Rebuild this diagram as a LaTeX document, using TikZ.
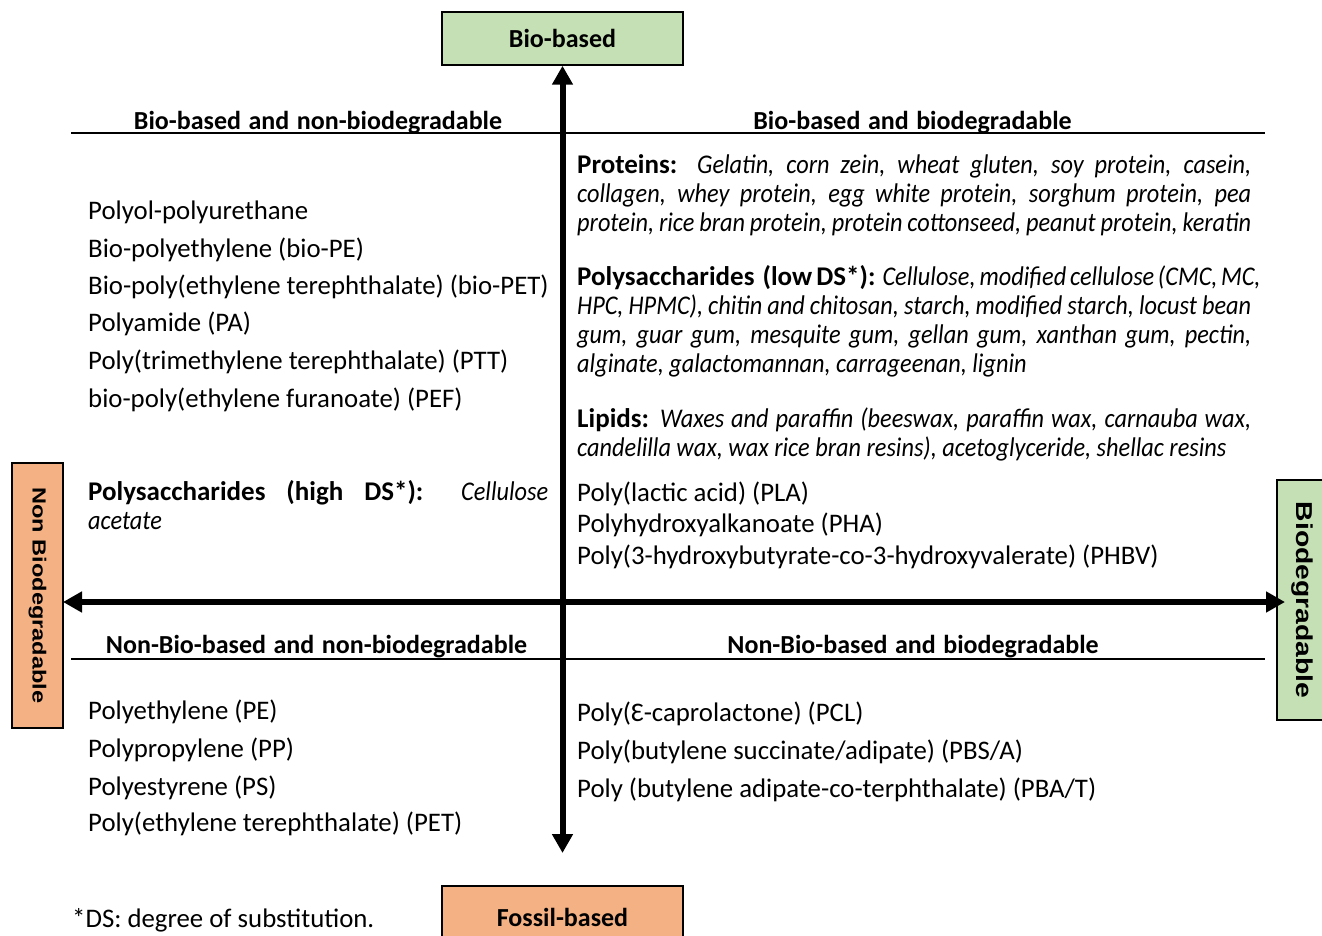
\documentclass[tikz,border=0pt]{standalone}
\usepackage{graphicx}
\usepackage{xcolor}
\usepackage{fontspec}
\setmainfont{Carlito}[ItalicFeatures={FakeStretch=0.90}]
\newfontfamily\sidefont{Liberation Sans}
\usetikzlibrary{arrows.meta}
\definecolor{biogreen}{RGB}{197,224,180}
\definecolor{fossilorange}{RGB}{244,177,131}
\newcommand{\jline}[2][674pt]{\leavevmode\hbox to #1{\spaceskip=0pt\xspaceskip=0pt #2}}

\begin{document}
\begin{tikzpicture}[x=1pt,y=-1pt,
  catbox/.style={draw=black,line width=1.5pt,inner sep=0pt,font=\bfseries\fontsize{26}{29}\selectfont},
  sidebox/.style={draw=black,line width=1.5pt,inner sep=0pt,rotate=-90},
  axisarrow/.style={line width=6pt,{Triangle[length=19pt,width=20pt]}-{Triangle[length=19pt,width=20pt]}},
  divider/.style={line width=2pt},
  heading/.style={inner sep=0pt,yshift=-3pt,font=\bfseries\fontsize{26}{29}\selectfont},
  item/.style={anchor=west,inner sep=0pt,yshift=-2pt,font=\fontsize{26.8}{29}\selectfont},
  para/.style={anchor=base west,inner sep=0pt,text width=674pt,align=flush left,font=\fontsize{27}{29}\selectfont}]
\useasboundingbox (0,0) rectangle (1322,936);

%Shape: category boxes
\node[catbox,fill=biogreen,minimum width=241pt,minimum height=53pt] (bio) at (562.5,38.5) {\raisebox{-3pt}{Bio-based}};
\node[catbox,fill=fossilorange,minimum width=241pt,minimum height=62pt] (fossil) at (562.5,917) {Fossil-based};
\node[sidebox,fill=fossilorange,minimum width=265pt,minimum height=51pt] (nonbio) at (37.5,595.5) {\sidefont\bfseries\fontsize{19}{22}\selectfont\scalebox{1.24}[1]{Non Biodegradable}};
\node[sidebox,fill=biogreen,minimum width=240pt,minimum height=50pt] (biodeg) at (1302,600) {\sidefont\bfseries\fontsize{23}{26}\selectfont\scalebox{1.23}[1]{Biodegradable}};

%Straight Lines: axes
\coordinate (downtip) at (562.5,853);
\coordinate (lefttip) at (63,602);
\coordinate (righttip) at (1285,602);
\draw[axisarrow] (bio.south) -- (downtip);
\draw[axisarrow] (lefttip) -- (righttip);

%Straight Lines: dividers
\draw[divider] (71,133) -- (1265,133);
\draw[divider] (71,659) -- (1265,659);

% Text Node: headings
\node[heading] (hbionb) at (318,120) {Bio-based\hspace{7.5pt}and\hspace{7.5pt}non-biodegradable};
\node[heading] (hbiob) at (912.5,120) {Bio-based\hspace{7.5pt}and\hspace{7.5pt}biodegradable};
\node[heading] (hfosnb) at (316.5,644) {Non-Bio-based\hspace{7.5pt}and\hspace{7.5pt}non-biodegradable};
\node[heading] (hfosb) at (913,644) {Non-Bio-based\hspace{7.5pt}and\hspace{7.5pt}biodegradable};

% Text Node: bio-based and non-biodegradable
\node[item] (ppu) at (88,210) {Polyol-polyurethane};
\node[item] (biope) at (88,248) {Bio-polyethylene (bio-PE)};
\node[item] (biopet) at (88,285) {Bio-poly(ethylene terephthalate) (bio-PET)};
\node[item] (pa) at (88,322) {Polyamide (PA)};
\node[item] (ptt) at (88,360) {Poly(trimethylene terephthalate) (PTT)};
\node[item] (pef) at (88,398) {bio-poly(ethylene furanoate) (PEF)};
\node[para,text width=460pt] (pshigh) at (88,500) {\jline[460pt]{\textbf{Polysaccharides (high DS*):} \textit{Cellulose}}\\\textit{acetate}};

% Text Node: bio-based and biodegradable
\node[para] (proteins) at (577,174) {\jline{\textbf{Proteins:} \textit{Gelatin, corn zein, wheat gluten, soy protein, casein,}}\\
\jline{\textit{collagen, whey protein, egg white protein, sorghum protein, pea}}\\
\jline{\textit{protein, rice bran protein, protein cottonseed, peanut protein, keratin}}};
\node[para] (pslow) at (577,285) {\jline{\textbf{Polysaccharides\ \ (low DS*):} \textit{Cellulose, modified cellulose (CMC, MC,}}\\
\jline{\textit{HPC, HPMC), chitin and chitosan, starch, modified starch, locust bean}}\\
\jline{\textit{gum, guar gum, mesquite gum, gellan gum, xanthan gum, pectin,}}\\
\textit{alginate, galactomannan, carrageenan, lignin}};
\node[para] (lipids) at (577,427) {\jline{\textbf{Lipids:} \textit{Waxes and paraffin (beeswax, paraffin wax, carnauba wax,}}\\
\textit{candelilla wax, wax rice bran resins), acetoglyceride, shellac resins}};
\node[item] (pla) at (577,492) {Poly(lactic acid) (PLA)};
\node[item] (pha) at (577,523) {Polyhydroxyalkanoate (PHA)};
\node[item] (phbv) at (577,555) {Poly(3-hydroxybutyrate-co-3-hydroxyvalerate) (PHBV)};

% Text Node: non-bio-based and non-biodegradable
\node[item] (pe) at (88,710) {Polyethylene (PE)};
\node[item] (pp) at (88,748) {Polypropylene (PP)};
\node[item] (ps) at (88,786) {Polyestyrene (PS)};
\node[item] (pet) at (88,822) {Poly(ethylene terephthalate) (PET)};

% Text Node: non-bio-based and biodegradable
\node[item] (pcl) at (577,712) {Poly(Ɛ-caprolactone) (PCL)};
\node[item] (pbsa) at (577,750) {Poly(butylene succinate/adipate) (PBS/A)};
\node[item] (pbat) at (577,788) {Poly (butylene adipate-co-terphthalate) (PBA/T)};

% Text Node: footnote
\node[item] (dsnote) at (72,918) {*DS: degree of substitution.};

\end{tikzpicture}
\end{document}
